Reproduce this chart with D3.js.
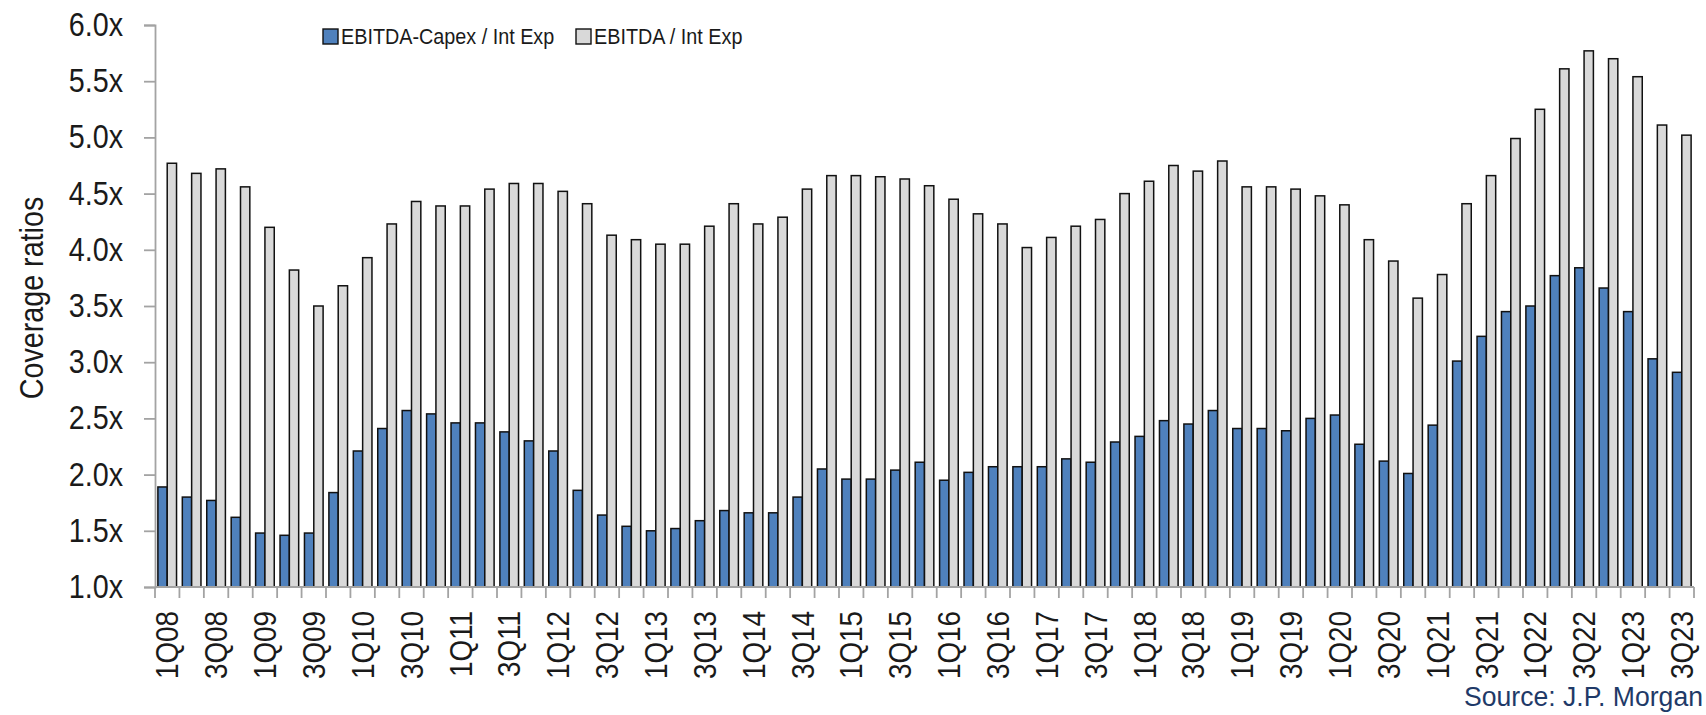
<!DOCTYPE html>
<html>
<head>
<meta charset="utf-8">
<script src="https://cdn.jsdelivr.net/npm/d3@7"></script>
<style>
  html, body { margin: 0; padding: 0; background: #ffffff; }
  svg { display: block; font-family: "Liberation Sans", Arial, sans-serif; }
</style>
</head>
<body>
<svg id="chart" width="1706" height="715"></svg>
<script>
// ---------- data ----------
const quarters = [
  "1Q08","2Q08","3Q08","4Q08","1Q09","2Q09","3Q09","4Q09",
  "1Q10","2Q10","3Q10","4Q10","1Q11","2Q11","3Q11","4Q11",
  "1Q12","2Q12","3Q12","4Q12","1Q13","2Q13","3Q13","4Q13",
  "1Q14","2Q14","3Q14","4Q14","1Q15","2Q15","3Q15","4Q15",
  "1Q16","2Q16","3Q16","4Q16","1Q17","2Q17","3Q17","4Q17",
  "1Q18","2Q18","3Q18","4Q18","1Q19","2Q19","3Q19","4Q19",
  "1Q20","2Q20","3Q20","4Q20","1Q21","2Q21","3Q21","4Q21",
  "1Q22","2Q22","3Q22","4Q22","1Q23","2Q23","3Q23"
];
const ebitdaCapexCoverage = [
  1.89,1.80,1.77,1.62,1.48,1.46,1.48,1.84,2.21,2.41,2.57,2.54,2.46,2.46,2.38,2.30,
  2.21,1.86,1.64,1.54,1.50,1.52,1.59,1.68,1.66,1.66,1.80,2.05,1.96,1.96,2.04,2.11,
  1.95,2.02,2.07,2.07,2.07,2.14,2.11,2.29,2.34,2.48,2.45,2.57,2.41,2.41,2.39,2.50,
  2.53,2.27,2.12,2.01,2.44,3.01,3.23,3.45,3.50,3.77,3.84,3.66,3.45,3.03,2.91
];
const ebitdaCoverage = [
  4.77,4.68,4.72,4.56,4.20,3.82,3.50,3.68,3.93,4.23,4.43,4.39,4.39,4.54,4.59,4.59,
  4.52,4.41,4.13,4.09,4.05,4.05,4.21,4.41,4.23,4.29,4.54,4.66,4.66,4.65,4.63,4.57,
  4.45,4.32,4.23,4.02,4.11,4.21,4.27,4.50,4.61,4.75,4.70,4.79,4.56,4.56,4.54,4.48,
  4.40,4.09,3.90,3.57,3.78,4.41,4.66,4.99,5.25,5.61,5.77,5.70,5.54,5.11,5.02
];
const seriesNames = ["EBITDA-Capex / Int Exp", "EBITDA / Int Exp"];
const seriesColors = ["#4f81bd", "#d9d9d9"];
const yTickValues = [1.0,1.5,2.0,2.5,3.0,3.5,4.0,4.5,5.0,5.5,6.0];
const xTickLabels = quarters.filter((q, i) => i % 2 === 0);
const yTitle = "Coverage ratios";
const sourceText = "Source: J.P. Morgan";

// ---------- layout ----------
const svg = d3.select("#chart");
const plotLeft = 155, plotRight = 1694, plotTop = 25, plotBottom = 587;
const axisColor = "#a3a3a3";
const textColor = "#1a1a1a";
const squeeze = 0.87; // narrow-looking text like the original

const x0 = d3.scaleBand().domain(quarters).range([plotLeft, plotRight]).paddingInner(0).paddingOuter(0);
const x1 = d3.scaleBand().domain(seriesNames).range([0, x0.bandwidth()]).paddingInner(0).paddingOuter(0.31);
const y = d3.scaleLinear().domain([1, 6]).range([plotBottom, plotTop]);

const rows = quarters.map((q, i) => ({
  q,
  values: [
    { s: seriesNames[0], v: ebitdaCapexCoverage[i], c: seriesColors[0] },
    { s: seriesNames[1], v: ebitdaCoverage[i], c: seriesColors[1] }
  ]
}));

// bars
const groups = svg.append("g").selectAll("g").data(rows).join("g")
  .attr("transform", d => `translate(${x0(d.q)},0)`);
groups.selectAll("rect").data(d => d.values).join("rect")
  .attr("x", d => x1(d.s))
  .attr("width", x1.bandwidth())
  .attr("y", d => y(d.v))
  .attr("height", d => y(1) - y(d.v))
  .attr("fill", d => d.c)
  .attr("stroke", "#111")
  .attr("stroke-width", 1.5);

// y axis
const yAxis = d3.axisLeft(y).tickValues(yTickValues)
  .tickFormat(d => d.toFixed(1) + "x").tickSize(11).tickPadding(20);
const gy = svg.append("g").attr("transform", `translate(${plotLeft},0)`).call(yAxis);
gy.select(".domain").attr("stroke", axisColor).attr("stroke-width", 1.8);
gy.selectAll(".tick line").attr("stroke", axisColor).attr("stroke-width", 1.8);
gy.selectAll(".tick text")
  .attr("font-size", 33).attr("fill", textColor)
  .attr("font-family", "'Liberation Sans', Arial, sans-serif")
  .attr("x", -32 / squeeze)
  .attr("transform", `scale(${squeeze},1)`);

// x axis
const gx = svg.append("g");
gx.append("line").attr("x1", plotLeft).attr("x2", plotRight).attr("y1", plotBottom).attr("y2", plotBottom)
  .attr("stroke", axisColor).attr("stroke-width", 1.8);
const boundaries = quarters.map(q => x0(q)).concat([x0.range()[1]]);
gx.selectAll("line.tk").data(boundaries).join("line").attr("class", "tk")
  .attr("x1", d => d).attr("x2", d => d).attr("y1", plotBottom).attr("y2", plotBottom + 11)
  .attr("stroke", axisColor).attr("stroke-width", 1.8);
gx.selectAll("text").data(xTickLabels).join("text")
  .attr("transform", d => `translate(${x0(d) + x0.bandwidth() / 2},611) rotate(-90) scale(${squeeze},1)`)
  .attr("text-anchor", "end")
  .attr("dy", "0.35em")
  .attr("font-size", 32)
  .attr("fill", textColor)
  .text(d => d);

// y title
svg.append("text")
  .attr("transform", `translate(31,298) rotate(-90) scale(${squeeze},1)`)
  .attr("text-anchor", "middle")
  .attr("dy", "0.35em")
  .attr("font-size", 33)
  .attr("fill", textColor)
  .text(yTitle);

// legend
const legendItems = [
  { name: seriesNames[0], color: seriesColors[0], x: 323 },
  { name: seriesNames[1], color: seriesColors[1], x: 576 }
];
const lg = svg.append("g");
legendItems.forEach(it => {
  lg.append("rect").attr("x", it.x).attr("y", 29).attr("width", 15).attr("height", 15)
    .attr("fill", it.color).attr("stroke", "#111").attr("stroke-width", 1.4);
  lg.append("text")
    .attr("transform", `translate(${it.x + 18},44) scale(0.9,1)`)
    .attr("font-size", 22).attr("fill", textColor).text(it.name);
});

// source
svg.append("text")
  .attr("transform", "translate(1703,706) scale(0.95,1)")
  .attr("text-anchor", "end")
  .attr("font-size", 28)
  .attr("fill", "#1f3a68")
  .text(sourceText);
</script>
</body>
</html>
